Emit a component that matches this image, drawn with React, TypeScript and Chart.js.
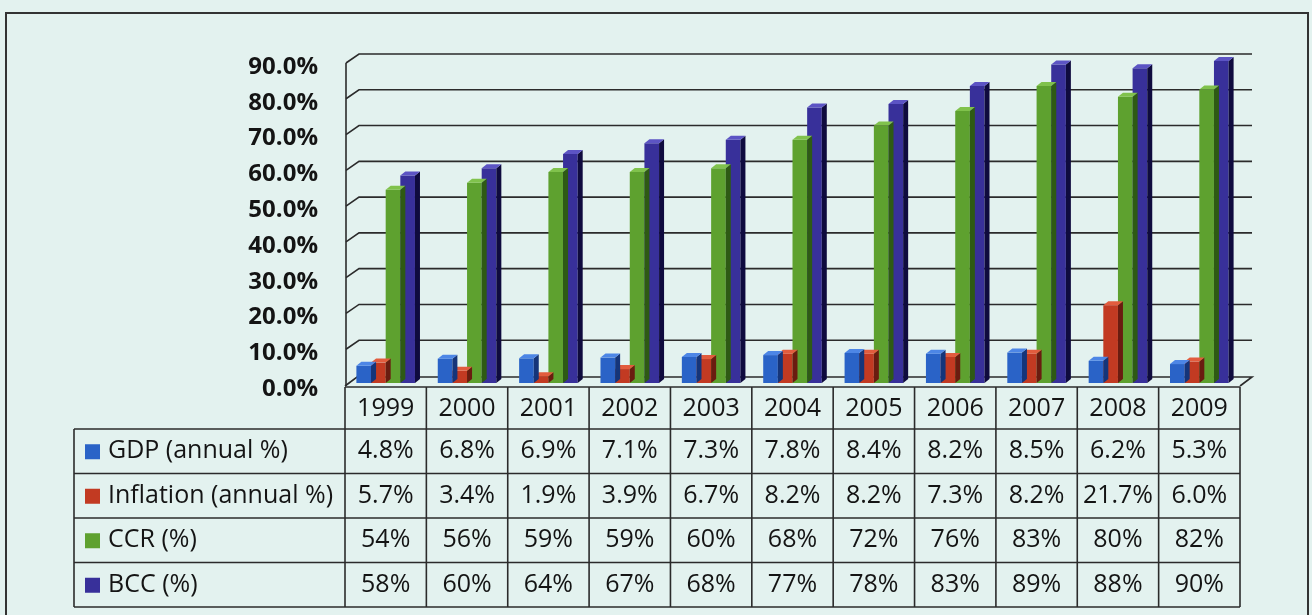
import React, { useEffect, useRef } from "react";
import { Chart, registerables } from "chart.js";

Chart.register(...registerables);

const years = ["1999", "2000", "2001", "2002", "2003", "2004", "2005", "2006", "2007", "2008", "2009"];
const gdp = [4.8, 6.8, 6.9, 7.1, 7.3, 7.8, 8.4, 8.2, 8.5, 6.2, 5.3];
const inflation = [5.7, 3.4, 1.9, 3.9, 6.7, 8.2, 8.2, 7.3, 8.2, 21.7, 6.0];
const ccr = [54, 56, 59, 59, 60, 68, 72, 76, 83, 80, 82];
const bcc = [58, 60, 64, 67, 68, 77, 78, 83, 89, 88, 90];
const yTicks = [0, 10, 20, 30, 40, 50, 60, 70, 80, 90];

const seriesNames = ["GDP (annual %)", "Inflation (annual %)", "CCR (%)", "BCC (%)"];
const seriesDecimals = [1, 1, 0, 0];
const frontColors = ["#2a63c7", "#c23a22", "#5ea12f", "#38309a"];
const sideColors = ["#15357a", "#6a1c10", "#2e5a14", "#0f0b3e"];
const topColors = ["#4d86e6", "#e25c3e", "#80c24c", "#5c54c4"];

const BG = "#e3f2ef";
const FONT = "'Open Sans', Lato, 'Liberation Sans', sans-serif";
const TEXT = "#141414";
const LINE = "#2b2b2b";

const threeD = {
  id: "threeD",
  beforeDatasetsDraw(chart: any) {
    const { ctx, chartArea, scales } = chart;
    const ys = scales.y;
    const L = chartArea.left;
    const R = chartArea.right;
    ctx.save();
    ctx.strokeStyle = LINE;
    ctx.lineWidth = 1.6;
    yTicks.forEach((v) => {
      const y = ys.getPixelForValue(v);
      ctx.beginPath();
      if (v === 0) {
        ctx.moveTo(L, y + 3);
        ctx.lineTo(L + 12, y - 6);
        ctx.lineTo(R + 12, y - 6);
        ctx.lineTo(R, y + 3);
      } else {
        ctx.moveTo(L + 1, y + 2);
        ctx.lineTo(L + 14, y - 7);
        ctx.lineTo(R + 12, y - 7);
      }
      ctx.stroke();
    });
    ctx.beginPath();
    ctx.moveTo(L + 1, ys.getPixelForValue(90) + 2);
    ctx.lineTo(L + 1, ys.getPixelForValue(0) + 3);
    ctx.stroke();
    ctx.restore();
  },
  afterDatasetDraw(chart: any, args: any) {
    const { ctx } = chart;
    const meta = args.meta;
    const i = args.index;
    const dx = 5;
    const dy = 4;
    ctx.save();
    meta.data.forEach((el: any) => {
      const { x, y, base, width } = el.getProps(["x", "y", "base", "width"], true);
      const left = x - width / 2;
      const right = x + width / 2;
      ctx.fillStyle = sideColors[i];
      ctx.beginPath();
      ctx.moveTo(right, y);
      ctx.lineTo(right + dx, y - dy);
      ctx.lineTo(right + dx, base - dy);
      ctx.lineTo(right, base);
      ctx.closePath();
      ctx.fill();
      ctx.fillStyle = topColors[i];
      ctx.beginPath();
      ctx.moveTo(left, y);
      ctx.lineTo(left + dx, y - dy);
      ctx.lineTo(right + dx, y - dy);
      ctx.lineTo(right, y);
      ctx.closePath();
      ctx.fill();
    });
    ctx.restore();
  },
  afterDraw(chart: any) {
    const { ctx, chartArea, scales } = chart;
    const xs = scales.x;
    const L = chartArea.left;
    const R = chartArea.right;
    const headerTop = chartArea.bottom + 4;
    const rowTop = xs.bottom;
    const rowH = 44.5;
    const legendLeft = 74;
    const n = years.length;
    const colW = (R - L) / n;
    const series = [gdp, inflation, ccr, bcc];
    const tableBottom = rowTop + rowH * series.length;
    ctx.save();
    ctx.strokeStyle = LINE;
    ctx.lineWidth = 1.6;
    ctx.beginPath();
    ctx.moveTo(L, headerTop);
    ctx.lineTo(R, headerTop);
    ctx.stroke();
    for (let r = 0; r <= series.length; r++) {
      const y = rowTop + r * rowH;
      ctx.beginPath();
      ctx.moveTo(legendLeft, y);
      ctx.lineTo(R, y);
      ctx.stroke();
    }
    for (let c = 0; c <= n; c++) {
      const x = L + c * colW;
      ctx.beginPath();
      ctx.moveTo(x, headerTop);
      ctx.lineTo(x, tableBottom);
      ctx.stroke();
    }
    ctx.beginPath();
    ctx.moveTo(legendLeft, rowTop);
    ctx.lineTo(legendLeft, tableBottom);
    ctx.stroke();

    ctx.font = `25px ${FONT}`;
    ctx.textBaseline = "middle";
    ctx.fillStyle = TEXT;
    series.forEach((vals, r) => {
      const cy = rowTop + r * rowH + rowH / 2;
      ctx.fillStyle = frontColors[r];
      ctx.fillRect(85, cy - 7, 15, 15);
      ctx.fillStyle = TEXT;
      ctx.textAlign = "left";
      ctx.fillText(seriesNames[r], 108, cy);
      ctx.textAlign = "center";
      vals.forEach((v, c) => {
        const cx = xs.getPixelForValue(c);
        ctx.fillText(v.toFixed(seriesDecimals[r]) + "%", cx, cy);
      });
    });

    ctx.strokeStyle = "#333333";
    ctx.lineWidth = 2;
    ctx.strokeRect(6, 13, 1302, 612);
    ctx.restore();
  },
};

export default function App() {
  const ref = useRef<HTMLCanvasElement | null>(null);
  useEffect(() => {
    if (!ref.current) return;
    const chart = new Chart(ref.current, {
      type: "bar",
      data: {
        labels: years,
        datasets: [gdp, inflation, ccr, bcc].map((d, i) => ({
          label: seriesNames[i],
          data: d,
          backgroundColor: frontColors[i],
          borderWidth: 0,
          barPercentage: 1.0,
          categoryPercentage: 0.72,
        })),
      },
      options: {
        animation: false,
        responsive: true,
        maintainAspectRatio: false,
        layout: { padding: { left: 0, right: 72, top: 61, bottom: 186 } },
        plugins: { legend: { display: false }, tooltip: { enabled: false } },
        scales: {
          x: {
            grid: { display: false, drawTicks: false },
            border: { display: false },
            ticks: { color: TEXT, font: { family: FONT, size: 25 }, padding: 11 },
            afterFit: (s: any) => {
              s.height = 46;
            },
          },
          y: {
            min: 0,
            max: 90,
            grid: { display: false, drawTicks: false },
            border: { display: false },
            ticks: {
              stepSize: 10,
              color: TEXT,
              font: { family: FONT, size: 24, weight: "bold" },
              padding: 27,
              labelOffset: 6,
              callback: (v: any) => Number(v).toFixed(1) + "%",
            },
            afterFit: (s: any) => {
              s.width = 345;
            },
          },
        },
      },
      plugins: [threeD],
    });
    return () => chart.destroy();
  }, []);
  return (
    <div style={{ position: "absolute", left: 0, top: 0, width: 1312, height: 615, background: BG, overflow: "hidden" }}>
      <canvas ref={ref} />
    </div>
  );
}
